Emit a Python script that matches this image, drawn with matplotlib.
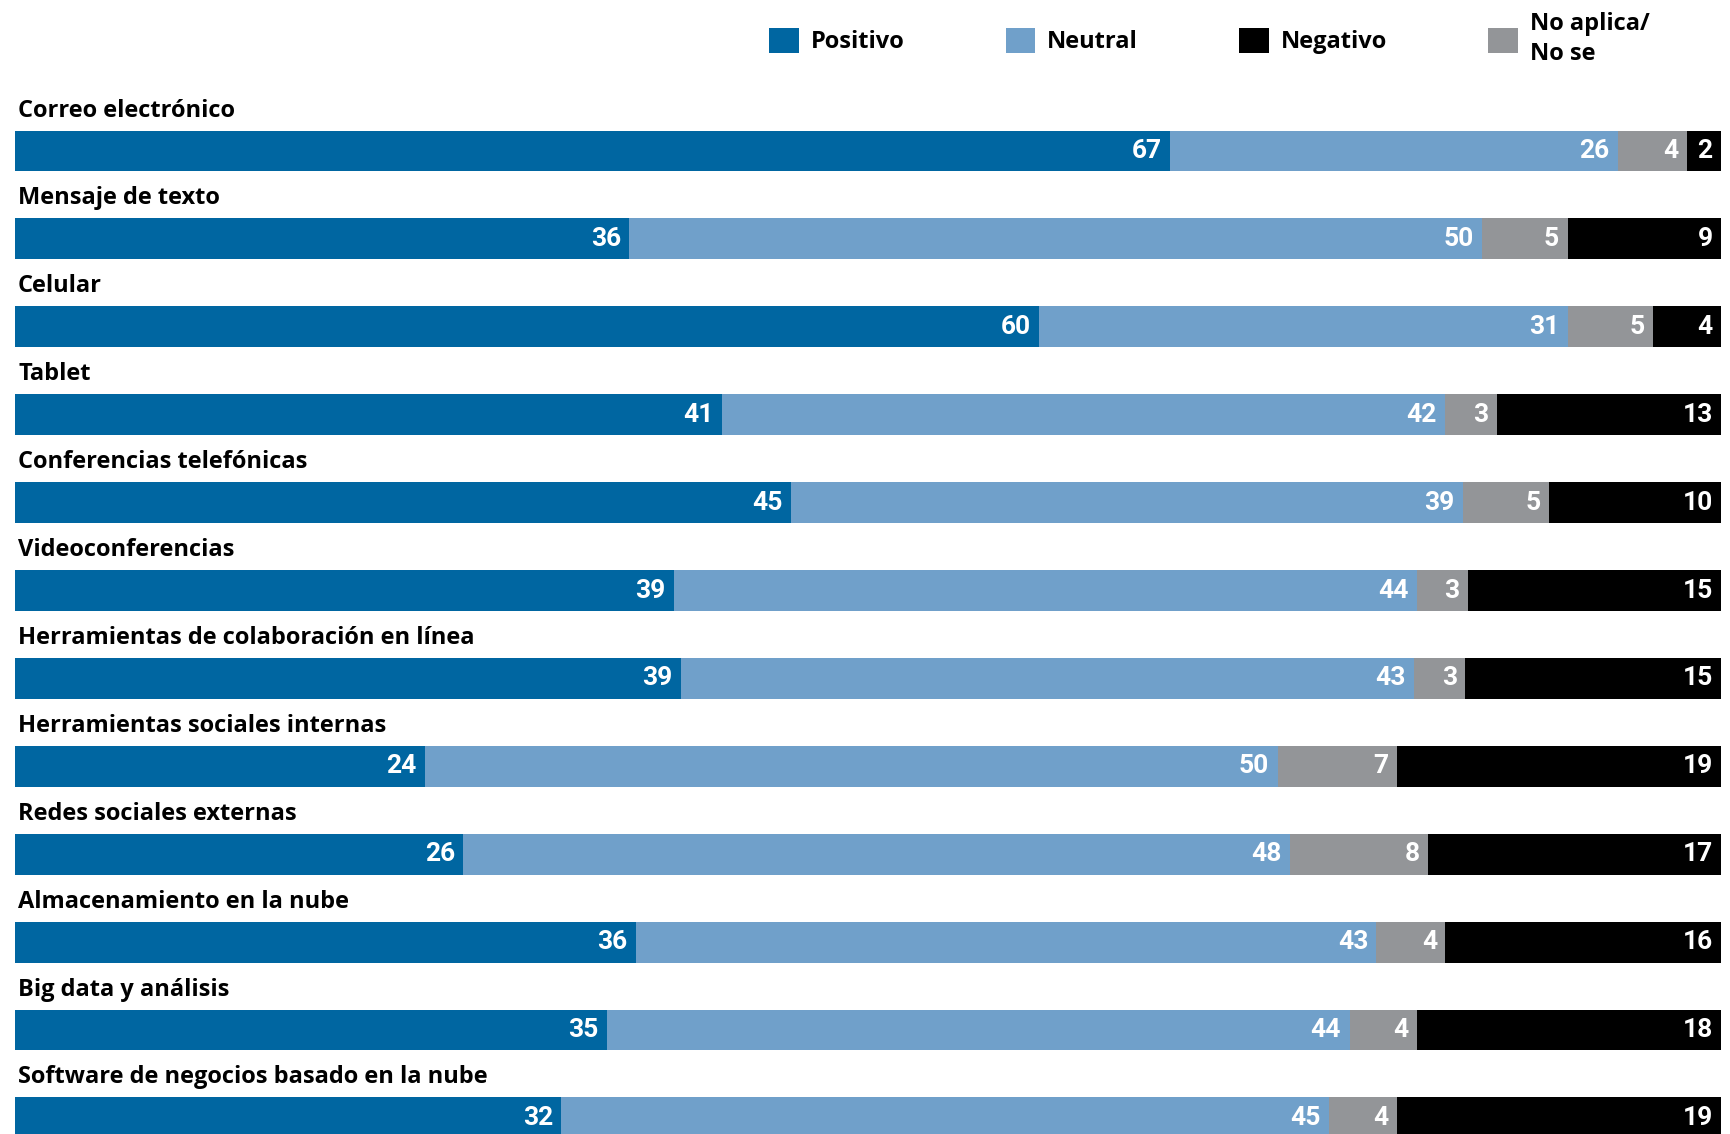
import numpy as np
import matplotlib.pyplot as plt
from matplotlib import font_manager

categories = [
    "Correo electrónico",
    "Mensaje de texto",
    "Celular",
    "Tablet",
    "Conferencias telefónicas",
    "Videoconferencias",
    "Herramientas de colaboración en línea",
    "Herramientas sociales internas",
    "Redes sociales externas",
    "Almacenamiento en la nube",
    "Big data y análisis",
    "Software de negocios basado en la nube",
]
positivo = [67, 36, 60, 41, 45, 39, 39, 24, 26, 36, 35, 32]
neutral = [26, 50, 31, 42, 39, 44, 43, 50, 48, 43, 44, 45]
no_aplica = [4, 5, 5, 3, 5, 3, 3, 7, 8, 4, 4, 4]
negativo = [2, 9, 4, 13, 10, 15, 15, 19, 17, 16, 18, 19]

series = [
    ("Positivo", positivo, "#0066a1"),
    ("Neutral", neutral, "#70a0ca"),
    ("No aplica/\nNo se", no_aplica, "#939598"),
    ("Negativo", negativo, "#000000"),
]

names = [f.name for f in font_manager.fontManager.ttflist]
label_font = "Open Sans" if "Open Sans" in names else "DejaVu Sans"
num_font = "Liberation Sans Narrow" if "Liberation Sans Narrow" in names else "Roboto"

W, H = 1731, 1134
fig = plt.figure(figsize=(W / 100, H / 100), dpi=100)
ax = fig.add_axes([15.5 / W, 0, (1721 - 15.5) / W, 1])

pitch = 87.9
top_center = 151
ax.set_xlim(0, 100)
ax.set_ylim((H - top_center) / pitch, -top_center / pitch)
ax.axis("off")

totals = np.sum([np.array(s[1]) for s in series], axis=0)
y = np.arange(len(categories))
left = np.zeros(len(categories))
handles = {}
for name, vals, color in series:
    w = np.array(vals) / totals * 100
    bars = ax.barh(y, w, left=left, height=0.466, color=color, edgecolor="none")
    handles[name] = bars
    for yi, li, wi, v in zip(y, left, w, vals):
        ax.annotate(str(v), (li + wi, yi), xytext=(-6, 0), textcoords="offset points",
                    ha="right", va="center", color="white", fontsize=19,
                    fontweight="bold", family=num_font)
    left += w

for yi, cat in zip(y, categories):
    ax.text(0.15, yi - 0.46, cat, ha="left", va="center", fontsize=17,
            fontweight="bold", family=label_font, color="black")

order = ["Positivo", "Neutral", "Negativo", "No aplica/\nNo se"]
leg = ax.legend([handles[k] for k in order], order, ncol=4, frameon=False,
                loc="upper left", bbox_to_anchor=(0.435, 1.0), handlelength=1.25,
                handleheight=1.25, handletextpad=0.5, columnspacing=4.3,
                prop={"family": label_font, "weight": "bold", "size": 17},
                borderaxespad=0.1, labelspacing=0.2)
for t in leg.get_texts():
    t.set_linespacing(1.35)

fig.savefig("out.png", dpi=100)
